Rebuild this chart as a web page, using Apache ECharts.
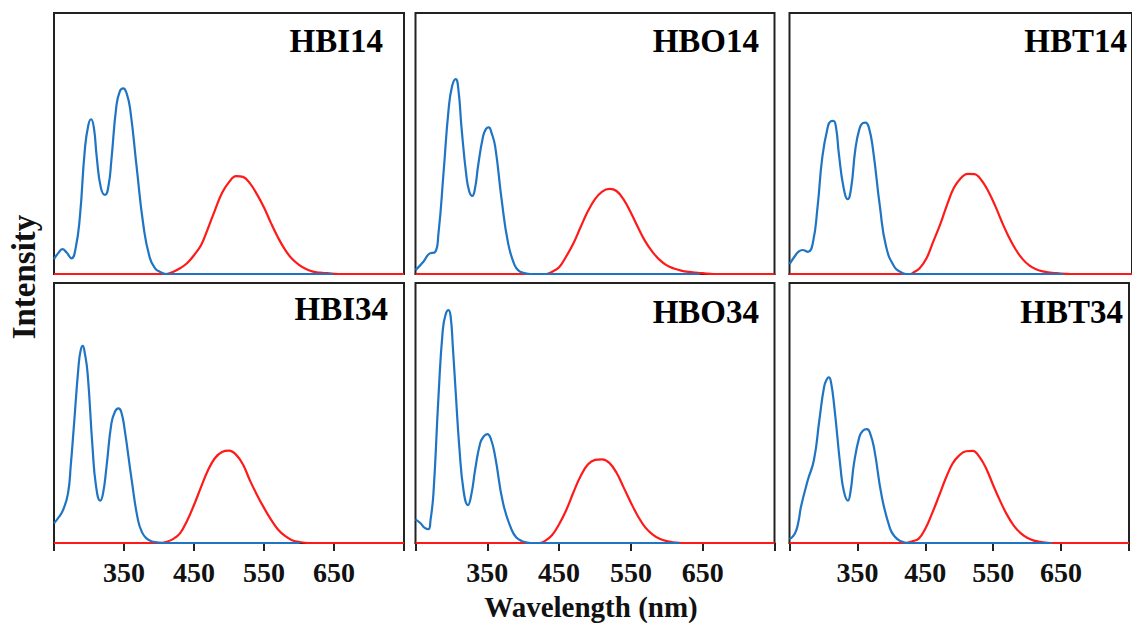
<!DOCTYPE html>
<html>
<head>
<meta charset="utf-8">
<script src="https://cdn.jsdelivr.net/npm/echarts@6/dist/echarts.min.js"></script>
<style>
  html, body { margin: 0; padding: 0; background: #ffffff; }
  #chart { width: 1132px; height: 623px; }
</style>
</head>
<body>
<div id="chart"></div>
<script>
// Normalised excitation (blue) and emission (red) spectra, [wavelength nm, intensity]
const hbi14Excitation = [[250,0.057],[256,0.08],[262,0.095],[268,0.082],[275,0.060],[281,0.10],[287,0.22],[294,0.475],[299,0.57],[303,0.593],[307,0.56],[311,0.45],[317,0.33],[323,0.303],[328,0.34],[332,0.437],[339,0.64],[344,0.70],[349,0.711],[354,0.69],[359,0.628],[368,0.411],[378,0.181],[387,0.061],[395,0.02],[401,0.009],[410,0],[649,0]];
const hbi14Emission = [[250,0],[410,0],[420,0.008],[430,0.022],[440,0.041],[450,0.072],[460,0.11],[470,0.175],[480,0.245],[490,0.31],[500,0.352],[510,0.375],[520,0.372],[530,0.347],[540,0.305],[550,0.255],[560,0.195],[570,0.14],[580,0.093],[590,0.058],[600,0.035],[610,0.019],[620,0.009],[630,0.005],[640,0.003],[650,0.001],[660,0],[750,0]];

const hbo14Excitation = [[250,0.015],[261,0.047],[270,0.079],[277,0.083],[282,0.156],[289,0.386],[296,0.628],[301,0.72],[306,0.747],[310,0.70],[314,0.564],[321,0.373],[325,0.315],[329,0.299],[333,0.33],[337,0.411],[344,0.526],[348,0.555],[352,0.562],[356,0.54],[361,0.488],[370,0.284],[379,0.118],[388,0.034],[395,0.01],[400,0.005],[410,0],[646,0]];
const hbo14Emission = [[250,0],[432,0],[440,0.008],[450,0.026],[460,0.068],[470,0.118],[480,0.18],[490,0.24],[500,0.287],[510,0.316],[520,0.326],[530,0.318],[540,0.285],[550,0.235],[560,0.178],[570,0.125],[580,0.085],[590,0.054],[600,0.033],[610,0.021],[620,0.013],[630,0.008],[640,0.005],[650,0.003],[665,0],[750,0]];

const hbt14Excitation = [[250,0.038],[258,0.069],[263,0.085],[269,0.092],[277,0.085],[284,0.118],[291,0.258],[298,0.45],[306,0.564],[310,0.585],[314,0.587],[318,0.56],[322,0.462],[329,0.33],[335,0.287],[340,0.33],[346,0.475],[352,0.555],[357,0.578],[361,0.58],[366,0.56],[372,0.475],[382,0.258],[391,0.105],[403,0.028],[412,0.008],[420,0],[650,0]];
const hbt14Emission = [[250,0],[427,0],[430,0.004],[440,0.022],[450,0.06],[460,0.125],[470,0.19],[480,0.265],[490,0.33],[500,0.367],[510,0.384],[520,0.383],[530,0.36],[540,0.318],[550,0.263],[560,0.2],[570,0.143],[580,0.095],[590,0.058],[600,0.033],[610,0.018],[620,0.01],[630,0.005],[640,0.003],[660,0],[750,0]];

const hbi34Excitation = [[250,0.076],[257,0.10],[263,0.127],[270,0.191],[274,0.30],[278,0.435],[285,0.678],[288,0.74],[291,0.758],[294,0.73],[298,0.653],[305,0.37],[310,0.22],[316,0.163],[320,0.19],[325,0.293],[332,0.46],[337,0.505],[342,0.518],[346,0.505],[351,0.435],[361,0.242],[370,0.088],[376,0.04],[382,0.018],[390,0.006],[397,0.003],[405,0],[601,0]];
const hbi34Emission = [[250,0],[400,0],[410,0.004],[420,0.015],[430,0.037],[440,0.085],[450,0.146],[460,0.215],[470,0.28],[480,0.327],[490,0.35],[500,0.355],[510,0.34],[520,0.302],[530,0.24],[540,0.185],[550,0.135],[560,0.09],[570,0.052],[580,0.027],[590,0.011],[600,0.004],[615,0],[750,0]];

const hbo34Excitation = [[250,0.091],[257,0.076],[263,0.058],[268,0.053],[271,0.09],[275,0.191],[282,0.563],[288,0.819],[292,0.88],[296,0.896],[299,0.87],[302,0.755],[306,0.58],[311,0.37],[317,0.2],[323,0.146],[328,0.19],[333,0.281],[340,0.383],[345,0.41],[350,0.419],[355,0.40],[361,0.332],[372,0.153],[384,0.05],[391,0.02],[398,0.008],[410,0],[618,0]];
const hbo34Emission = [[250,0],[423,0],[430,0.007],[440,0.03],[450,0.072],[460,0.127],[470,0.195],[480,0.258],[490,0.302],[500,0.32],[510,0.322],[520,0.308],[530,0.27],[540,0.213],[550,0.155],[560,0.102],[570,0.06],[580,0.033],[590,0.016],[600,0.007],[610,0.003],[620,0],[750,0]];

const hbt34Excitation = [[250,0.014],[258,0.037],[263,0.08],[267,0.14],[277,0.242],[286,0.319],[294,0.473],[301,0.601],[305,0.63],[308,0.637],[311,0.62],[316,0.524],[325,0.293],[330,0.2],[336,0.163],[340,0.2],[345,0.306],[353,0.409],[358,0.432],[364,0.438],[369,0.42],[375,0.358],[386,0.178],[398,0.056],[405,0.025],[413,0.008],[425,0],[636,0]];
const hbt34Emission = [[250,0],[422,0],[430,0.006],[440,0.016],[450,0.055],[460,0.114],[470,0.18],[480,0.248],[490,0.305],[500,0.337],[510,0.353],[520,0.354],[530,0.33],[540,0.285],[550,0.222],[560,0.163],[570,0.11],[580,0.068],[590,0.039],[600,0.02],[610,0.009],[620,0.004],[635,0],[750,0]];

const panelNames = ['HBI14', 'HBO14', 'HBT14', 'HBI34', 'HBO34', 'HBT34'];
const excitationSets = [hbi14Excitation, hbo14Excitation, hbt14Excitation, hbi34Excitation, hbo34Excitation, hbt34Excitation];
const emissionSets = [hbi14Emission, hbo14Emission, hbt14Emission, hbi34Emission, hbo34Emission, hbt34Emission];

const wavelengthMin = 250;
const wavelengthMax = 750;
const wavelengthStep = 100;
const labeledWavelengths = [350, 450, 550, 650];
const xAxisTitle = 'Wavelength (nm)';
const yAxisTitle = 'Intensity';

// Panel layout (pixels)
const colLeft = [54, 415.5, 789.5];
const colWidth = [350, 359, 350];
const rowTop = [13, 283];
const rowHeight = [261, 260];
const nameRight = [[383, 759, 1127], [388, 759, 1123]];
const nameMidY = [[41, 41, 41], [308.5, 311.5, 311.5]];

const serifBold = 'bold {size}px "Liberation Serif", "Times New Roman", serif';
const font = (s) => serifBold.replace('{size}', s);

const grids = [], xAxes = [], yAxes = [], series = [], graphics = [];

panelNames.forEach((name, i) => {
  const row = Math.floor(i / 3), col = i % 3;
  const isBottom = row === 1;
  grids.push({
    left: colLeft[col], top: rowTop[row], width: colWidth[col], height: rowHeight[row],
    show: true, borderColor: '#222222', borderWidth: 2, backgroundColor: 'transparent',
    containLabel: false
  });
  xAxes.push({
    type: 'value', gridIndex: i, min: wavelengthMin, max: wavelengthMax, interval: wavelengthStep,
    axisLine: { show: true, lineStyle: { color: '#222222', width: 2 } },
    axisTick: { show: isBottom, inside: false, length: 8, lineStyle: { color: '#222222', width: 2 } },
    axisLabel: {
      show: isBottom, margin: 15, color: '#111111',
      fontFamily: '"Liberation Serif", "Times New Roman", serif', fontWeight: 'bold', fontSize: 28,
      formatter: (v) => labeledWavelengths.includes(v) ? String(v) : ''
    },
    splitLine: { show: false }
  });
  yAxes.push({
    type: 'value', gridIndex: i, min: 0, max: 1,
    axisLine: { show: false }, axisTick: { show: false },
    axisLabel: { show: false }, splitLine: { show: false }
  });
  series.push({
    name: name + ' emission', type: 'line', xAxisIndex: i, yAxisIndex: i,
    data: emissionSets[i], showSymbol: false, smooth: 0.4,
    lineStyle: { color: '#ff1a1a', width: 2.2 }, itemStyle: { color: '#ff1a1a' },
    z: 3, animation: false
  });
  series.push({
    name: name + ' excitation', type: 'line', xAxisIndex: i, yAxisIndex: i,
    data: excitationSets[i], showSymbol: false, smooth: 0.5,
    lineStyle: { color: '#1f74c4', width: 2.2 }, itemStyle: { color: '#1f74c4' },
    z: 4, animation: false
  });
  graphics.push({
    type: 'text', x: nameRight[row][col], y: nameMidY[row][col], z: 10,
    style: { text: name, font: font(33), fill: '#000000', textAlign: 'right', textVerticalAlign: 'middle' }
  });
});

graphics.push({
  type: 'text', x: 591, y: 607, z: 10,
  style: { text: xAxisTitle, font: font(29), fill: '#111111', textAlign: 'center', textVerticalAlign: 'middle' }
});
graphics.push({
  type: 'text', x: 24, y: 277, rotation: Math.PI / 2, z: 10,
  style: { text: yAxisTitle, font: font(33), fill: '#111111', textAlign: 'center', textVerticalAlign: 'middle' }
});

const chart = echarts.init(document.getElementById('chart'), null, { renderer: 'svg' });
chart.setOption({
  backgroundColor: '#ffffff',
  animation: false,
  grid: grids,
  xAxis: xAxes,
  yAxis: yAxes,
  series: series,
  graphic: graphics
});
</script>
</body>
</html>
